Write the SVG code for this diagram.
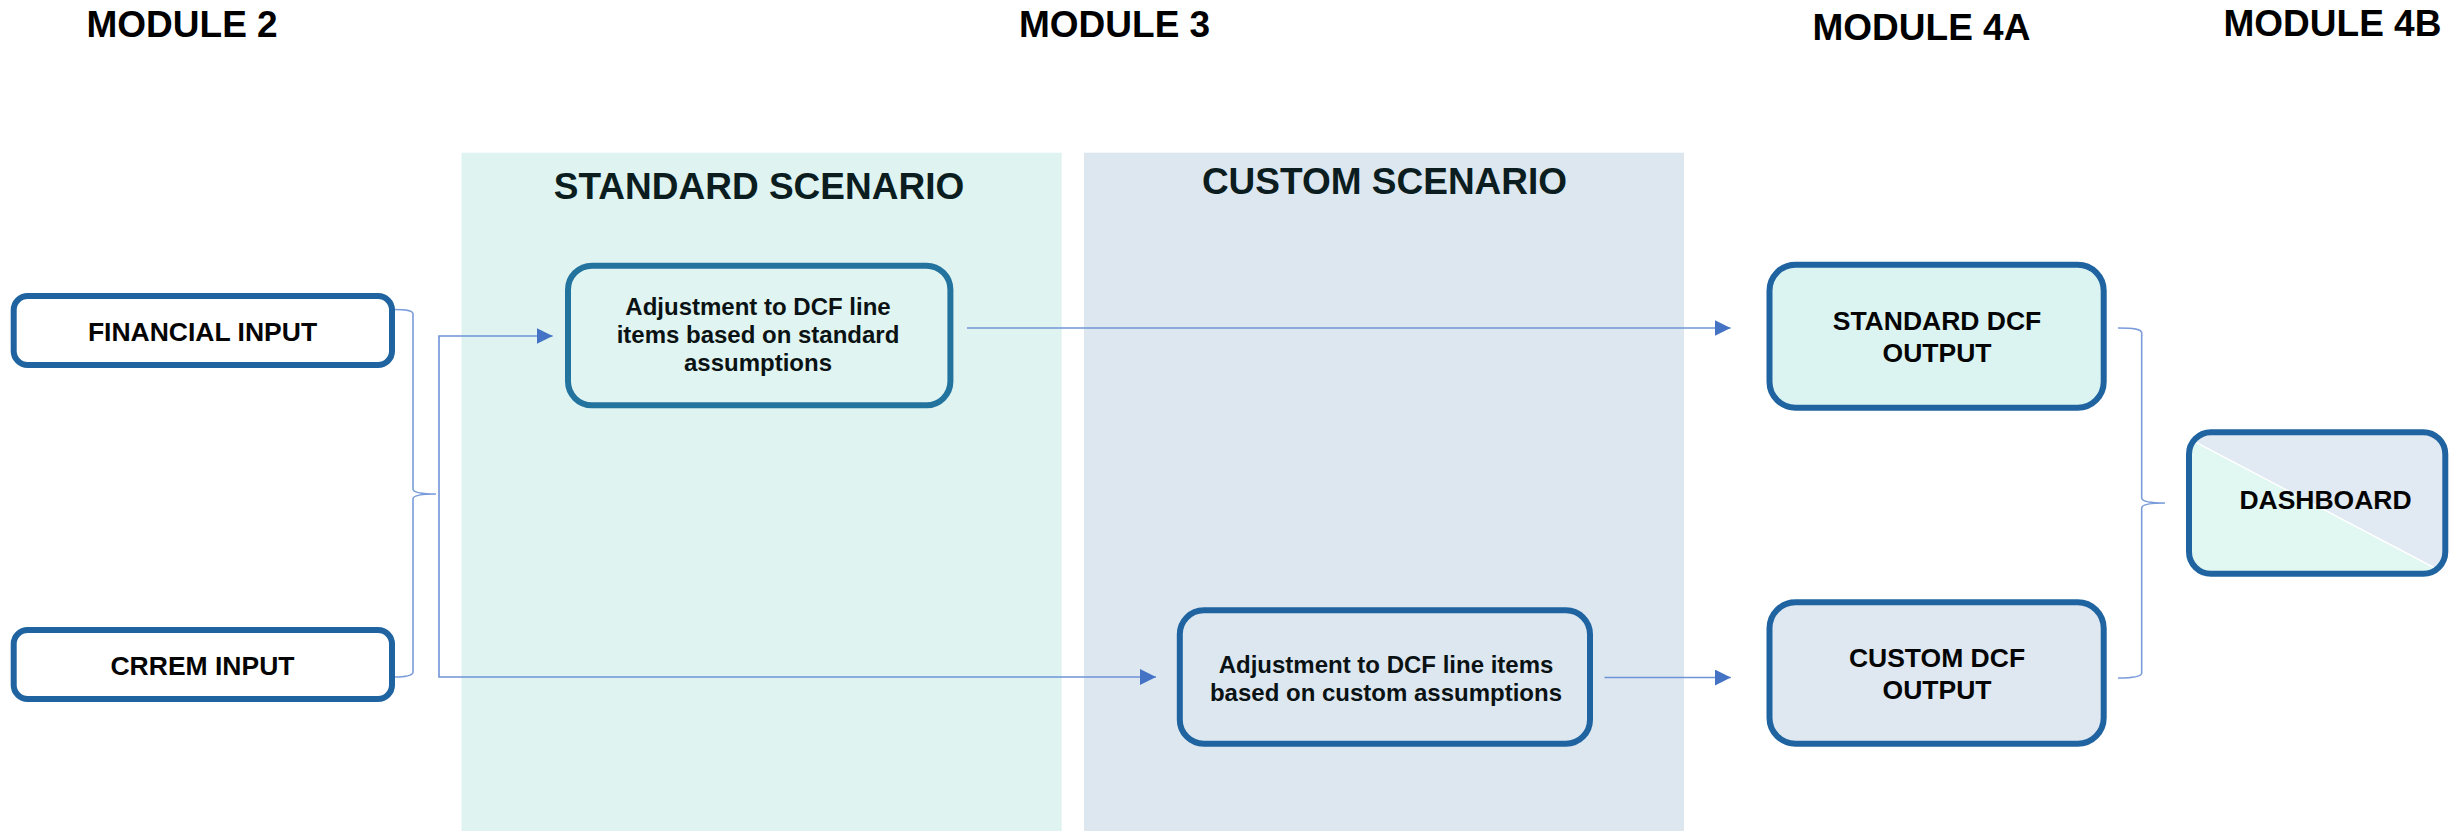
<svg xmlns="http://www.w3.org/2000/svg" width="2461" height="831" viewBox="0 0 2461 831">
  <style>
    .hdr { font-family: "Liberation Sans", Arial, sans-serif; font-weight: bold; font-size: 37px; fill: #000; }
    .scn { font-family: "Liberation Sans", Arial, sans-serif; font-weight: bold; font-size: 37px; fill: #0b1d1e; text-anchor: middle; }
    .lbl { font-family: "Liberation Sans", Arial, sans-serif; font-weight: bold; font-size: 26.5px; fill: #050505; text-anchor: middle; }
    .adj { font-family: "Liberation Sans", Arial, sans-serif; font-weight: bold; font-size: 24px; fill: #0a1214; text-anchor: middle; }
    .box { stroke: #1f64a0; stroke-width: 6; }
    .box-std { stroke: #23739f; stroke-width: 6; }
    .wire { fill: none; stroke: #6f94d6; stroke-width: 1.6; }
    .brace { fill: none; stroke: #7a9cdb; stroke-width: 1.6; }
  </style>
  <defs>
    <marker id="arrow" viewBox="0 0 16 16" refX="16" refY="8" markerWidth="16" markerHeight="16" markerUnits="userSpaceOnUse" orient="auto">
      <path d="M0,0 L16,8 L0,16 Z" fill="#4472c4"/>
    </marker>
    <clipPath id="dashClip">
      <rect x="2189" y="432" width="256" height="142" rx="22"/>
    </clipPath>
  </defs>

  <rect width="2461" height="831" fill="#ffffff"/>

  <!-- scenario panels -->
  <g id="panel-standard">
    <rect x="461.5" y="152.7" width="600.2" height="680" fill="#dff3f1"/>
    <text class="scn" x="759" y="199.3">STANDARD SCENARIO</text>
  </g>
  <g id="panel-custom">
    <rect x="1084" y="152.7" width="600" height="680" fill="#dde7f0"/>
    <text class="scn" x="1384.5" y="194.3">CUSTOM SCENARIO</text>
  </g>

  <!-- module headings -->
  <g id="headers">
    <text class="hdr" x="86.5" y="36.7">MODULE 2</text>
    <text class="hdr" x="1019" y="36.7">MODULE 3</text>
    <text class="hdr" x="1812.5" y="40">MODULE 4A</text>
    <text class="hdr" x="2223.5" y="36">MODULE 4B</text>
  </g>

  <!-- connectors and braces -->
  <g id="connectors">
    <path class="brace" d="M394,309.5 C407,309.5 413,310.5 413,314 L413,489 C413,492 418,494 436,494 C418,494 413,496 413,499 L413,672 C413,675.5 407,677 394,677"/>
    <path class="wire" d="M439,494 L439,336 L552.7,336" marker-end="url(#arrow)"/>
    <path class="wire" d="M439,494 L439,677 L1156,677" marker-end="url(#arrow)"/>
    <path class="wire" d="M967,328 L1730.6,328" marker-end="url(#arrow)"/>
    <path class="wire" d="M1604.5,677.5 L1730.8,677.5" marker-end="url(#arrow)"/>
    <path class="brace" d="M2118,328 C2134,328 2141.7,329 2141.7,333 L2141.7,498 C2141.7,501 2147,503 2165,503 C2147,503 2141.7,505 2141.7,508 L2141.7,673 C2141.7,676.5 2134,678 2118,678"/>
  </g>

  <!-- module 2 inputs -->
  <g id="financial-input">
    <rect class="box" x="13.7" y="296" width="378.3" height="69" rx="14" fill="#ffffff"/>
    <text class="lbl" x="202.5" y="340.7">FINANCIAL INPUT</text>
  </g>
  <g id="crrem-input">
    <rect class="box" x="13.7" y="630" width="378.3" height="69" rx="14" fill="#ffffff"/>
    <text class="lbl" x="202.5" y="675">CRREM INPUT</text>
  </g>

  <!-- module 3 adjustments -->
  <g id="standard-adjustment">
    <rect class="box-std" x="568" y="265.7" width="382.4" height="139.6" rx="24" fill="#e0f4f1"/>
    <text class="adj" x="758" y="315">Adjustment to DCF line</text>
    <text class="adj" x="758" y="343">items based on standard</text>
    <text class="adj" x="758" y="371">assumptions</text>
  </g>
  <g id="custom-adjustment">
    <rect class="box" x="1179.8" y="610.3" width="410.2" height="133.4" rx="24" fill="#dde7f0"/>
    <text class="adj" x="1386" y="673.3">Adjustment to DCF line items</text>
    <text class="adj" x="1386" y="700.7">based on custom assumptions</text>
  </g>

  <!-- module 4A outputs -->
  <g id="standard-dcf-output">
    <rect class="box" x="1769.5" y="264.7" width="334.2" height="143" rx="26" fill="#dcf4f1"/>
    <text class="lbl" x="1937" y="330">STANDARD DCF</text>
    <text class="lbl" x="1937" y="362">OUTPUT</text>
  </g>
  <g id="custom-dcf-output">
    <rect class="box" x="1769.5" y="602.3" width="334.2" height="141.4" rx="26" fill="#dfe8f1"/>
    <text class="lbl" x="1937" y="666.7">CUSTOM DCF</text>
    <text class="lbl" x="1937" y="699">OUTPUT</text>
  </g>

  <!-- module 4B dashboard: two-tone fill split along the diagonal -->
  <g id="dashboard">
    <g clip-path="url(#dashClip)">
      <rect x="2189" y="432" width="256" height="142" fill="#e1e9f2"/>
      <polygon points="2186,437 2448,575 2186,580" fill="#e1f7f2"/>
      <line x1="2186" y1="437" x2="2448" y2="575" stroke="#ffffff" stroke-width="1.5"/>
    </g>
    <rect class="box" x="2189" y="432.3" width="256.3" height="141.4" rx="22" fill="none"/>
    <text class="lbl" x="2325.5" y="509.3">DASHBOARD</text>
  </g>
</svg>
